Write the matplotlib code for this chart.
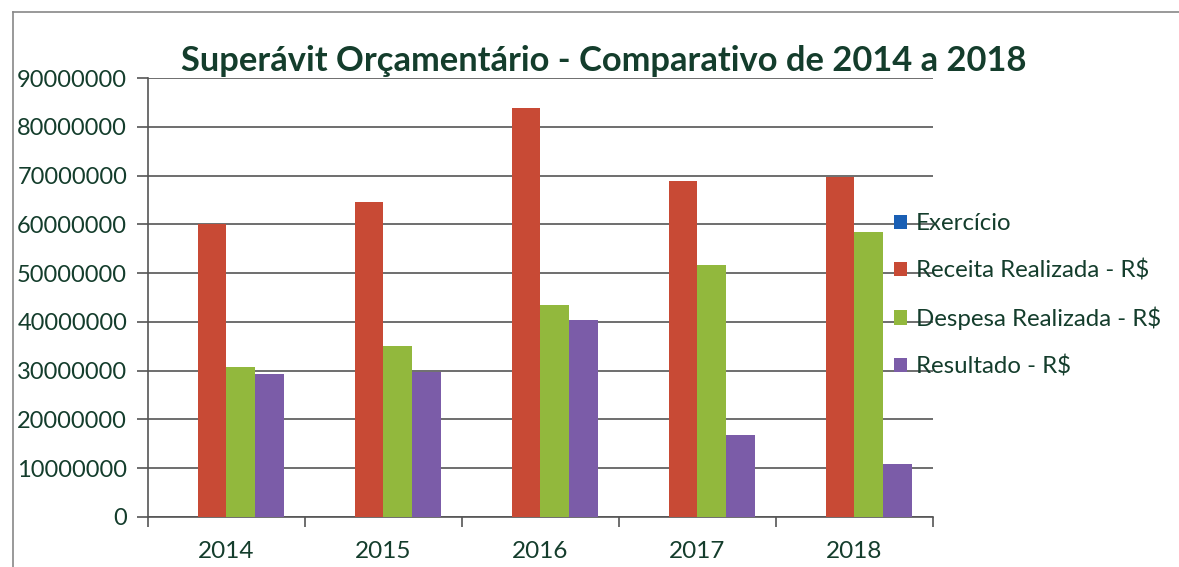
import numpy as np
import matplotlib
matplotlib.use("Agg")
import matplotlib.pyplot as plt
from matplotlib.lines import Line2D

plt.rcParams['font.family'] = ['Lato', 'DejaVu Sans']

# ----------- DATA ------------
anos = ["2014", "2015", "2016", "2017", "2018"]
exercicio = [2014, 2015, 2016, 2017, 2018]
receita = [60000000, 64500000, 83800000, 68900000, 69700000]
despesa = [30700000, 35100000, 43400000, 51600000, 58400000]
resultado = [29400000, 29700000, 40300000, 16900000, 10800000]

series = [
    ("Exercício", exercicio, "#1a5fb4"),
    ("Receita Realizada - R$", receita, "#c84a35"),
    ("Despesa Realizada - R$", despesa, "#92b83d"),
    ("Resultado - R$", resultado, "#7b5ca8"),
]

TXT = "#143d2c"
GRID = "#555555"

# ----------- PLOT ------------
fig = plt.figure(figsize=(11.79, 5.67), dpi=100)
ax = fig.add_axes([0.1255, 0.0882, 0.6658, 0.7742])

x = np.arange(len(anos))
w = 1 / 5.5
for i, (nome, vals, cor) in enumerate(series):
    ax.bar(x + (i - 1.5) * w, vals, width=w, color=cor, label=nome, zorder=3)

ax.set_xlim(-0.5, len(anos) - 0.5)
ax.set_ylim(0, 90000000)
ax.set_yticks(np.arange(0, 90000001, 10000000))
ax.set_yticklabels([f"{v:d}" for v in range(0, 90000001, 10000000)])
ax.yaxis.grid(True, color=GRID, linewidth=1.2, zorder=0)

ax.set_xticks(x)
ax.set_xticklabels(anos)
ax.set_xticks(np.arange(-0.5, len(anos)), minor=True)
ax.tick_params(axis='x', which='major', length=0, pad=17, labelsize=17.5, labelcolor=TXT)
ax.tick_params(axis='x', which='minor', length=7, width=1.2, direction='out', color=GRID)
ax.tick_params(axis='y', length=8, width=1.2, color=GRID, pad=7, labelsize=17, labelcolor=TXT)

for s in ['top', 'right']:
    ax.spines[s].set_visible(False)
ax.spines['left'].set_color(GRID)
ax.spines['bottom'].set_color(GRID)
ax.spines['left'].set_linewidth(1.2)
ax.spines['bottom'].set_linewidth(1.2)

fig.text(0.512, 0.893, "Superávit Orçamentário - Comparativo de 2014 a 2018",
         ha='center', va='center', fontsize=24.8, fontweight='bold', color=TXT)

handles, labels = ax.get_legend_handles_labels()
leg = fig.legend(handles, labels, loc='upper left', bbox_to_anchor=(0.740, 0.662),
                 frameon=False, fontsize=17.3, labelcolor=TXT, handlelength=0.55,
                 handleheight=0.55, handletextpad=0.35, labelspacing=1.05)

# frame of the scanned chart
fig.add_artist(Line2D([0.011, 1.0], [0.979, 0.979], color="#888888", linewidth=1.2))
fig.add_artist(Line2D([0.011, 0.011], [0.0, 0.979], color="#888888", linewidth=1.2))

fig.savefig("out.png", dpi=100, facecolor="white")
